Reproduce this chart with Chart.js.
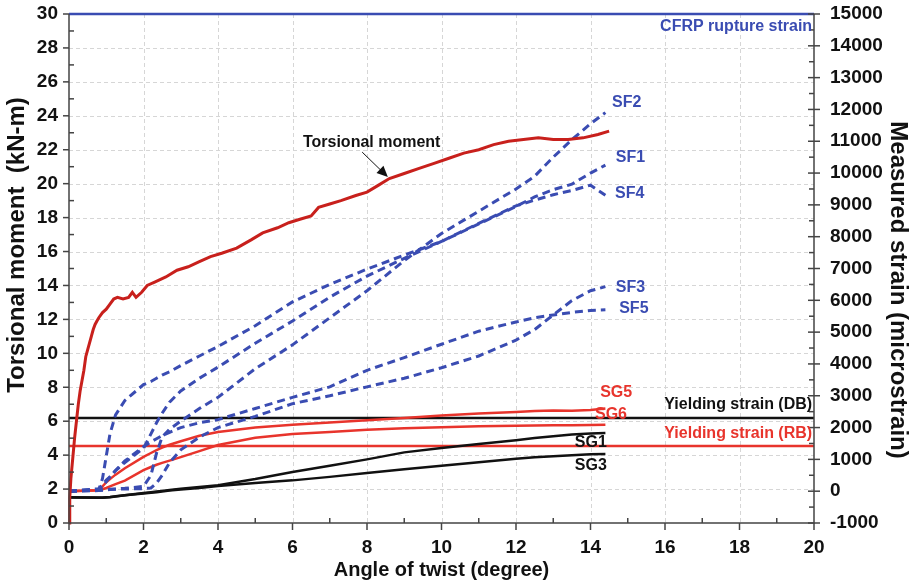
<!DOCTYPE html>
<html>
<head>
<meta charset="utf-8">
<script src="https://cdn.jsdelivr.net/npm/chart.js@4.4.0/dist/chart.umd.min.js"></script>
<style>
  html, body { margin: 0; padding: 0; background: #fff; }
  canvas { display: block; }
</style>
</head>
<body>
<canvas id="myChart" width="914" height="585"></canvas>
<script>
// torsional moment vs angle of twist (left axis, kN-m)
const twistAngle = [0, 0.02, 0.05, 0.1, 0.15, 0.2, 0.25, 0.3, 0.35, 0.4, 0.45, 0.5, 0.55, 0.6, 0.65, 0.7, 0.75, 0.8, 0.9, 1.0,
  1.1, 1.2, 1.3, 1.45, 1.6, 1.7, 1.8, 1.95, 2.1, 2.3, 2.6, 2.9, 3.2, 3.5, 3.8, 4.1, 4.5, 4.9, 5.2, 5.6,
  5.9, 6.2, 6.5, 6.7, 7.0, 7.3, 7.7, 8.0, 8.3, 8.6, 9.0, 9.4, 9.8, 10.2, 10.6, 11.0, 11.4, 11.8, 12.2, 12.6,
  13.0, 13.4, 13.8, 14.2, 14.5]
const torsionalMoment = [0, 1.5, 2.6, 3.8, 5.0, 6.0, 7.0, 7.8, 8.4, 9.0, 9.8, 10.2, 10.6, 11.0, 11.4, 11.7, 11.9, 12.1, 12.4, 12.6,
  12.9, 13.2, 13.3, 13.2, 13.3, 13.6, 13.3, 13.6, 14.0, 14.2, 14.5, 14.9, 15.1, 15.4, 15.7, 15.9, 16.2, 16.7, 17.1, 17.4,
  17.7, 17.9, 18.1, 18.6, 18.8, 19.0, 19.3, 19.5, 19.9, 20.3, 20.6, 20.9, 21.2, 21.5, 21.8, 22.0, 22.3, 22.5, 22.6, 22.7,
  22.6, 22.6, 22.7, 22.9, 23.1]

// measured strains (right axis, microstrain) on a common angle grid
const strainAngle = [0, 0.8, 0.9, 1.0, 1.1, 1.25, 1.5, 2.0, 2.2, 2.35, 2.5, 2.7, 3.0, 3.5, 4.0, 5.0, 6.0, 7.0, 8.0, 9.0, 10.0, 11.0, 12.0, 12.5, 13.0, 13.5, 14.0, 14.4]
const sf1 = [0, 80, 200, 350, 450, 650, 900, 1350, 1800, 2150, 2450, 2800, 3150, 3550, 3900, 4650, 5350, 6100, 6760, 7320, 7850, 8400, 8950, 9250, 9480, 9650, 10000, 10250]
const sf2 = [0, 30, 40, 50, 60, 70, 90, 150, 500, 1200, 1700, 1950, 2200, 2600, 2950, 3850, 4600, 5450, 6300, 7250, 8100, 8800, 9500, 9900, 10500, 11050, 11550, 11900]
const sf3 = [0, 20, 30, 40, 50, 60, 70, 80, 100, 250, 500, 900, 1300, 1700, 2000, 2350, 2750, 3000, 3280, 3550, 3880, 4250, 4750, 5080, 5540, 5990, 6300, 6430]
const sf4 = [0, 50, 400, 1100, 1800, 2400, 2850, 3350, 3450, 3550, 3650, 3750, 3950, 4250, 4550, 5200, 5950, 6500, 6980, 7420, 7850, 8420, 8970, 9150, 9320, 9450, 9620, 9300]
const sf5 = [0, 50, 150, 300, 450, 650, 950, 1400, 1550, 1650, 1750, 1850, 2000, 2150, 2250, 2600, 2950, 3280, 3800, 4200, 4620, 5030, 5320, 5450, 5540, 5620, 5680, 5700]
const sg1 = [-200, -210, -210, -200, -190, -170, -130, -60, -30, -10, 10, 40, 80, 130, 190, 380, 600, 800, 1000, 1220, 1360, 1480, 1600, 1670, 1730, 1780, 1810, 1830]
const sg3 = [-190, -200, -200, -190, -180, -160, -130, -70, -50, -30, -10, 20, 50, 100, 160, 260, 340, 450, 570, 690, 800, 910, 1020, 1070, 1100, 1130, 1160, 1170]
const sg5 = [0, 30, 150, 280, 380, 520, 720, 1080, 1200, 1290, 1370, 1460, 1570, 1740, 1860, 2000, 2090, 2160, 2230, 2300, 2380, 2440, 2490, 2520, 2540, 2530, 2550, 2600]
const sg6 = [0, 30, 60, 100, 150, 220, 330, 660, 760, 830, 890, 960, 1070, 1260, 1450, 1680, 1800, 1860, 1930, 1980, 2010, 2040, 2055, 2065, 2070, 2075, 2080, 2090]

// reference strain levels
const yieldDB = 2300
const yieldRB = 1420
const cfrpRupture = 15000

const BLUE = '#3a4cb2'
const RED = '#e8342c'
const DARKRED = '#c8201c'
const FONT = '"Liberation Sans", Arial, sans-serif'

function pts(xs, ys) {
    return xs.map((v, i) => ({ x: v, y: ys[i] }))
}
function hline(v) {
    return [{ x: 0, y: v }, { x: 20, y: v }]
}
function line(data, color, axis, width, dash) {
    return {
        data: data, yAxisID: axis, borderColor: color, backgroundColor: color,
        borderWidth: width, borderDash: dash || [], showLine: true, pointRadius: 0, tension: 0, clip: 4
    }
}

const dash = [8, 5]
const datasets = [
    line(pts(twistAngle, torsionalMoment), DARKRED, 'y', 3),
    line(pts(strainAngle, sf1), BLUE, 'y2', 3, dash),
    line(pts(strainAngle, sf2), BLUE, 'y2', 3, dash),
    line(pts(strainAngle, sf3), BLUE, 'y2', 3, dash),
    line(pts(strainAngle, sf4), BLUE, 'y2', 3, dash),
    line(pts(strainAngle, sf5), BLUE, 'y2', 3, dash),
    line(pts(strainAngle, sg5), RED, 'y2', 2.5),
    line(pts(strainAngle, sg6), RED, 'y2', 2.5),
    line(pts(strainAngle, sg1), '#111', 'y2', 2.5),
    line(pts(strainAngle, sg3), '#111', 'y2', 2.5),
    line(hline(yieldDB), '#111', 'y2', 2.5),
    line(hline(yieldRB), RED, 'y2', 2.5),
    line(hline(cfrpRupture), BLUE, 'y2', 2.5)
]

// dashed grid drawn under the data
const grid = {
    id: 'grid',
    beforeDatasetsDraw(chart) {
        const { ctx, chartArea: a, scales } = chart
        ctx.save()
        ctx.strokeStyle = '#d6d6d6'
        ctx.lineWidth = 1
        ctx.setLineDash([4, 3])
        for (let v = 2; v < 20; v += 2) {
            const px = Math.round(scales.x.getPixelForValue(v)) + 0.5
            ctx.beginPath(); ctx.moveTo(px, a.top); ctx.lineTo(px, a.bottom); ctx.stroke()
        }
        for (let v = 2; v < 30; v += 2) {
            const py = Math.round(scales.y.getPixelForValue(v)) + 0.5
            ctx.beginPath(); ctx.moveTo(a.left, py); ctx.lineTo(a.right, py); ctx.stroke()
        }
        ctx.restore()
    }
}

const overlay = {
    id: 'overlay',
    afterDatasetsDraw(chart) {
        const { ctx, chartArea: a, scales } = chart
        const x = scales.x, y = scales.y, y2 = scales.y2
        ctx.save()
        ctx.strokeStyle = '#444'
        ctx.lineWidth = 1.5
        // axis lines
        ctx.beginPath()
        ctx.moveTo(a.left, a.top); ctx.lineTo(a.left, a.bottom); ctx.lineTo(a.right, a.bottom); ctx.lineTo(a.right, a.top)
        ctx.stroke()
        // left ticks
        for (let v = 0; v <= 30; v++) {
            const py = y.getPixelForValue(v)
            ctx.beginPath()
            if (v % 2 === 0) { ctx.moveTo(a.left - 6, py); ctx.lineTo(a.left, py) }
            else { ctx.moveTo(a.left, py); ctx.lineTo(a.left + 5, py) }
            ctx.stroke()
        }
        // right ticks
        for (let v = -1000; v <= 15000; v += 500) {
            const py = y2.getPixelForValue(v)
            ctx.beginPath()
            if (v % 1000 === 0) { ctx.moveTo(a.right - 6, py); ctx.lineTo(a.right + 6, py) }
            else { ctx.moveTo(a.right - 5, py); ctx.lineTo(a.right, py) }
            ctx.stroke()
        }
        // bottom ticks
        for (let v = 0; v <= 20; v++) {
            const px = x.getPixelForValue(v)
            ctx.beginPath()
            if (v % 2 === 0) { ctx.moveTo(px, a.bottom); ctx.lineTo(px, a.bottom + 7) }
            else { ctx.moveTo(px, a.bottom); ctx.lineTo(px, a.bottom - 5) }
            ctx.stroke()
        }

        function label(text, xv, yv, sc, color, align) {
            ctx.fillStyle = color
            ctx.font = 'bold 16px ' + FONT
            ctx.textAlign = align || 'left'
            ctx.textBaseline = 'middle'
            ctx.fillText(text, x.getPixelForValue(xv), sc.getPixelForValue(yv))
        }
        label('CFRP rupture strain', 19.95, 14590, y2, BLUE, 'right')
        label('SF2', 14.58, 12200, y2, BLUE)
        label('SF1', 14.68, 10500, y2, BLUE)
        label('SF4', 14.66, 9370, y2, BLUE)
        label('SF3', 14.68, 6390, y2, BLUE)
        label('SF5', 14.77, 5730, y2, BLUE)
        label('SG5', 14.26, 3086, y2, RED)
        label('SG6', 14.12, 2394, y2, RED)
        label('SG1', 13.58, 1514, y2, '#111')
        label('SG3', 13.58, 791, y2, '#111')
        label('Yielding strain (DB)', 19.95, 2709, y2, '#111', 'right')
        label('Yielding strain (RB)', 19.95, 1797, y2, RED, 'right')
        label('Torsional moment', 6.28, 22.45, y, '#111')

        // arrow to the torsional moment curve
        const x0 = x.getPixelForValue(7.87), y0 = y.getPixelForValue(21.86)
        const x1 = x.getPixelForValue(8.56), y1 = y.getPixelForValue(20.39)
        const ang = Math.atan2(y1 - y0, x1 - x0)
        ctx.strokeStyle = '#111'
        ctx.fillStyle = '#111'
        ctx.lineWidth = 1
        ctx.beginPath()
        ctx.moveTo(x0, y0)
        ctx.lineTo(x1 - 8 * Math.cos(ang), y1 - 8 * Math.sin(ang))
        ctx.stroke()
        ctx.beginPath()
        ctx.moveTo(x1, y1)
        ctx.lineTo(x1 - 11 * Math.cos(ang) + 5 * Math.sin(ang), y1 - 11 * Math.sin(ang) - 5 * Math.cos(ang))
        ctx.lineTo(x1 - 11 * Math.cos(ang) - 5 * Math.sin(ang), y1 - 11 * Math.sin(ang) + 5 * Math.cos(ang))
        ctx.closePath()
        ctx.fill()

        // axis titles
        ctx.fillStyle = '#111'
        ctx.textAlign = 'center'
        ctx.textBaseline = 'middle'
        ctx.font = 'bold 24px ' + FONT
        ctx.save()
        ctx.translate(17, 245)
        ctx.rotate(-Math.PI / 2)
        ctx.fillText('Torsional moment  (kN-m)', 0, 0)
        ctx.restore()
        ctx.save()
        ctx.translate(898, 290)
        ctx.rotate(Math.PI / 2)
        ctx.fillText('Measured strain (microstrain)', 0, 0)
        ctx.restore()
        ctx.font = 'bold 20px ' + FONT
        ctx.fillText('Angle of twist (degree)', (a.left + a.right) / 2, 570)
        ctx.restore()
    }
}

const tickFont = { family: FONT, size: 19, weight: 'bold' }

new Chart(document.getElementById('myChart'), {
    type: 'scatter',
    data: { datasets: datasets },
    options: {
        responsive: false,
        animation: false,
        layout: { padding: { top: 14, left: 0, right: 0, bottom: 0 } },
        plugins: { legend: { display: false }, tooltip: { enabled: false } },
        scales: {
            x: {
                type: 'linear', min: 0, max: 20,
                ticks: { stepSize: 2, padding: 13, color: '#111', font: tickFont },
                grid: { display: false, drawTicks: false },
                border: { display: false },
                afterFit(s) { s.height = 62; s.paddingLeft = 0; s.paddingRight = 0 }
            },
            y: {
                position: 'left', min: 0, max: 30,
                ticks: { stepSize: 2, padding: 11, color: '#111', font: tickFont },
                grid: { display: false, drawTicks: false },
                border: { display: false },
                afterFit(s) { s.width = 69; s.paddingTop = 0; s.paddingBottom = 0 }
            },
            y2: {
                position: 'right', min: -1000, max: 15000,
                ticks: { stepSize: 1000, padding: 16, color: '#111', font: tickFont, callback: (v) => String(v) },
                grid: { display: false, drawTicks: false },
                border: { display: false },
                afterFit(s) { s.width = 100; s.paddingTop = 0; s.paddingBottom = 0 }
            }
        }
    },
    plugins: [grid, overlay]
});
</script>
</body>
</html>
